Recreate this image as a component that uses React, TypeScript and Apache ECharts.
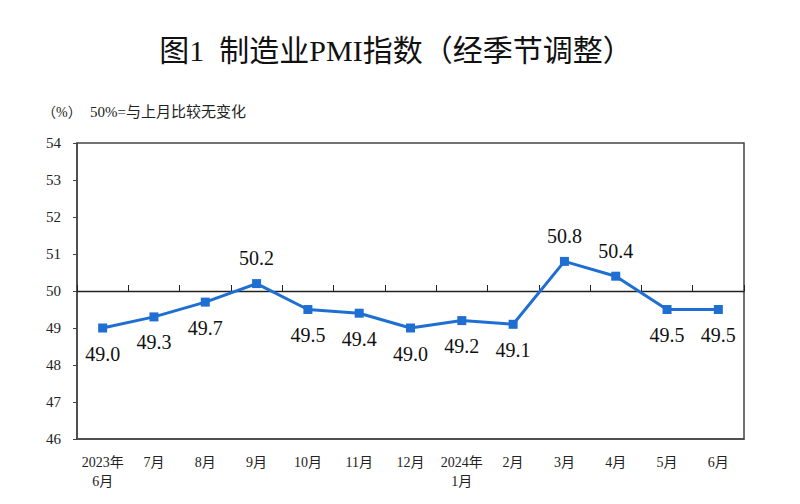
import React, { useEffect, useRef } from "react";
import * as echarts from "echarts";

const categories = [
  "2023年\n6月", "7月", "8月", "9月", "10月", "11月", "12月",
  "2024年\n1月", "2月", "3月", "4月", "5月", "6月",
];
const pmiValues = [49.0, 49.3, 49.7, 50.2, 49.5, 49.4, 49.0, 49.2, 49.1, 50.8, 50.4, 49.5, 49.5];
const yMin = 46;
const yMax = 54;
const baseline = 50;

const serif = "'Liberation Serif', 'Times New Roman', 'Noto Sans CJK SC', serif";
const blue = "#1E6FD1";

export default function App() {
  const ref = useRef<HTMLDivElement>(null);
  useEffect(() => {
    if (!ref.current) return;
    const chart = echarts.init(ref.current, null, { renderer: "svg" });
    const gridTop = 143;
    const gridBottom = 65;
    const gridH = 504 - gridTop - gridBottom;
    const offset50 = -((baseline - yMin) / (yMax - yMin)) * gridH;
    chart.setOption({
      animation: false,
      backgroundColor: "#ffffff",
      graphic: [
        {
          type: "text",
          x: 396,
          y: 50,
          style: {
            text: "图1  制造业PMI指数（经季节调整）",
            fontFamily: serif,
            fontSize: 30,
            fill: "#111",
            align: "center",
            verticalAlign: "middle",
          },
        },
        {
          type: "text",
          x: 42,
          y: 112,
          style: {
            text: "（%）",
            fontFamily: serif,
            fontSize: 14,
            fill: "#222",
            align: "left",
            verticalAlign: "middle",
          },
        },
        {
          type: "text",
          x: 90,
          y: 112,
          style: {
            text: "50%=与上月比较无变化",
            fontFamily: serif,
            fontSize: 15,
            fill: "#222",
            align: "left",
            verticalAlign: "middle",
          },
        },
      ],
      grid: {
        left: 77,
        right: 56,
        top: gridTop,
        bottom: gridBottom,
        show: true,
        borderColor: "#444",
        borderWidth: 1.5,
        containLabel: false,
      },
      xAxis: [
        {
          type: "category",
          data: categories,
          position: "bottom",
          boundaryGap: true,
          axisLine: { show: true, lineStyle: { color: "#444", width: 1.5 } },
          axisTick: { show: false },
          axisLabel: {
            margin: 14,
            fontFamily: serif,
            fontSize: 14,
            lineHeight: 19,
            color: "#222",
            interval: 0,
          },
          splitLine: { show: false },
        },
        {
          type: "category",
          data: categories,
          position: "bottom",
          offset: offset50,
          boundaryGap: true,
          axisLine: { show: true, lineStyle: { color: "#222", width: 1.3 } },
          axisTick: { show: true, inside: true, length: 6, lineStyle: { color: "#222", width: 1 } },
          axisLabel: { show: false },
          splitLine: { show: false },
        },
      ],
      yAxis: {
        type: "value",
        min: yMin,
        max: yMax,
        interval: 1,
        axisLine: { show: true, lineStyle: { color: "#444", width: 1.5 } },
        axisTick: { show: true, inside: false, length: 4, lineStyle: { color: "#444" } },
        axisLabel: {
          margin: 16,
          fontFamily: serif,
          fontSize: 15,
          color: "#222",
        },
        splitLine: { show: false },
      },
      series: [
        {
          type: "line",
          xAxisIndex: 0,
          data: pmiValues.map((v) => ({
            value: v,
            label: { position: v > baseline ? "top" : "bottom" },
          })),
          symbol: "rect",
          symbolSize: 9,
          lineStyle: { color: blue, width: 3 },
          itemStyle: { color: blue },
          label: {
            show: true,
            distance: 11,
            fontFamily: serif,
            fontSize: 20,
            color: "#111",
            formatter: (p: any) => Number(p.value).toFixed(1),
          },
          z: 5,
        },
      ],
    });
    return () => chart.dispose();
  }, []);
  return (
    <div
      ref={ref}
      style={{ position: "fixed", left: 0, top: 0, width: 800, height: 504, background: "#fff" }}
    />
  );
}
